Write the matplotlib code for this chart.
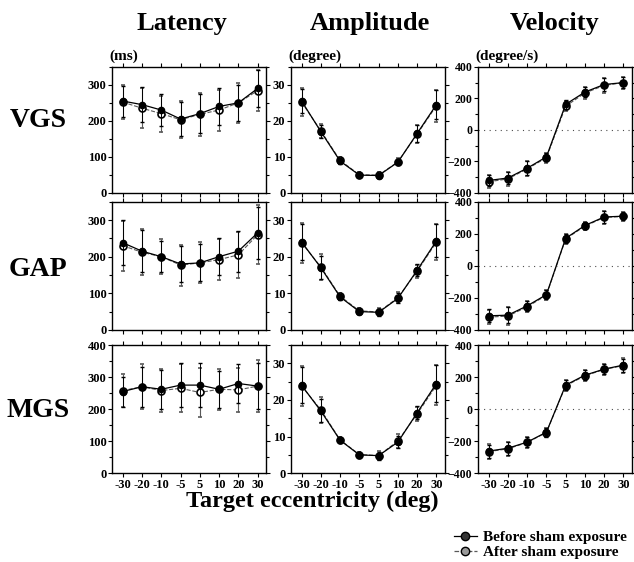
import numpy as np
import matplotlib.pyplot as plt
from matplotlib.ticker import MultipleLocator

plt.rcParams['font.family'] = ['Liberation Serif', 'DejaVu Serif']
plt.rcParams['font.weight'] = 'bold'

ecc_labels = ['-30', '-20', '-10', '-5', '5', '10', '20', '30']
x = np.arange(len(ecc_labels))

# latency (ms): before / after, with error bar half-widths
lat_vgs_before = [255, 245, 230, 205, 220, 240, 250, 290]
lat_vgs_after = [252, 235, 220, 203, 218, 230, 250, 284]
lat_vgs_err = [48, 55, 50, 52, 60, 57, 56, 58]
lat_gap_before = [238, 215, 200, 180, 183, 200, 215, 265]
lat_gap_after = [230, 212, 200, 177, 183, 192, 205, 260]
lat_gap_err = [68, 63, 48, 56, 56, 56, 62, 80]
lat_mgs_before = [255, 270, 262, 275, 275, 262, 280, 272]
lat_mgs_after = [258, 270, 258, 265, 252, 262, 260, 272]
lat_mgs_err = [52, 70, 68, 75, 75, 64, 68, 80]

# amplitude (degree)
amp_vgs_before = [25.5, 17.0, 8.8, 4.9, 4.8, 8.5, 16.5, 24.5]
amp_vgs_after = [25.2, 17.2, 9.0, 5.0, 4.9, 8.6, 16.3, 24.2]
amp_vgs_err = [3.8, 2.0, 1.0, 0.7, 0.8, 1.0, 2.5, 4.5]
amp_gap_before = [24.0, 17.0, 9.0, 5.0, 4.8, 8.6, 16.3, 24.3]
amp_gap_after = [23.8, 17.2, 9.2, 5.2, 4.9, 8.8, 16.0, 24.0]
amp_gap_err = [5.5, 3.5, 1.0, 0.8, 1.0, 1.5, 1.8, 5.0]
amp_mgs_before = [24.0, 17.0, 9.0, 5.0, 4.8, 8.5, 16.5, 24.5]
amp_mgs_after = [23.8, 17.3, 9.1, 5.1, 4.8, 8.8, 16.2, 24.0]
amp_mgs_err = [5.5, 3.5, 0.8, 0.8, 1.2, 1.8, 2.0, 5.5]

# velocity (degree/s)
vel_vgs_before = [-322, -306, -244, -172, 162, 240, 288, 300]
vel_vgs_after = [-330, -312, -248, -178, 150, 234, 282, 300]
vel_vgs_err = [40, 45, 48, 30, 32, 38, 45, 38]
vel_gap_before = [-312, -308, -250, -180, 172, 252, 305, 310]
vel_gap_after = [-320, -314, -256, -184, 168, 248, 302, 308]
vel_gap_err = [45, 55, 35, 30, 30, 25, 40, 30]
vel_mgs_before = [-262, -244, -206, -144, 150, 212, 250, 275]
vel_mgs_after = [-265, -248, -208, -146, 146, 208, 248, 272]
vel_mgs_err = [45, 45, 35, 30, 35, 35, 35, 45]

rows = ['VGS', 'GAP', 'MGS']
cols = ['Latency', 'Amplitude', 'Velocity']
units = ['(ms)', '(degree)', '(degree/s)']
data = [
    [(lat_vgs_before, lat_vgs_after, lat_vgs_err),
     (amp_vgs_before, amp_vgs_after, amp_vgs_err),
     (vel_vgs_before, vel_vgs_after, vel_vgs_err)],
    [(lat_gap_before, lat_gap_after, lat_gap_err),
     (amp_gap_before, amp_gap_after, amp_gap_err),
     (vel_gap_before, vel_gap_after, vel_gap_err)],
    [(lat_mgs_before, lat_mgs_after, lat_mgs_err),
     (amp_mgs_before, amp_mgs_after, amp_mgs_err),
     (vel_mgs_before, vel_mgs_after, vel_mgs_err)],
]

fig = plt.figure(figsize=(6.34, 5.62), dpi=100)

lefts = [0.177, 0.459, 0.754]
bottoms = [0.657, 0.413, 0.158]
heights = [0.224, 0.228, 0.228]
w = 0.243
title_x = [0.287, 0.584, 0.875]
row_y = [0.786, 0.52, 0.27]

for r in range(3):
    for c in range(3):
        ax = fig.add_axes([lefts[c], bottoms[r], w, heights[r]])
        before, after, err = data[r][c]
        ax.errorbar(x, after, yerr=err, color='0.35', lw=0.8, ls='--',
                    elinewidth=0.8, capsize=1.2, marker='o', ms=5,
                    mfc='white', mec='black', mew=1.2, zorder=2)
        ax.errorbar(x, before, yerr=np.array(err) * 0.9, color='black', lw=0.9,
                    elinewidth=0.7, capsize=1.2, marker='o', ms=4.5,
                    mfc='black', mec='black', zorder=3)
        ax.set_xlim(-0.55, 7.45)
        if c == 0:
            ax.set_ylim(0, 400 if r == 2 else 350)
            ax.yaxis.set_major_locator(MultipleLocator(100))
            ax.yaxis.set_minor_locator(MultipleLocator(50))
        elif c == 1:
            ax.set_ylim(0, 35)
            ax.yaxis.set_major_locator(MultipleLocator(10))
            ax.yaxis.set_minor_locator(MultipleLocator(5))
        else:
            ax.set_ylim(-400, 400)
            ax.yaxis.set_major_locator(MultipleLocator(200))
            ax.yaxis.set_minor_locator(MultipleLocator(100))
            ax.axhline(0, color='0.3', lw=0.8, ls=(0, (1, 4)), zorder=1)
        ax.set_xticks(x)
        if r == 2:
            ax.set_xticklabels(ecc_labels)
        else:
            ax.set_xticklabels([])
        ax.tick_params(which='both', direction='out', length=3, width=0.8,
                       labelsize=9, pad=1, top=True, right=True)
        ax.tick_params(which='minor', length=2)
        if c == 2:
            ax.tick_params(axis='y', labelsize=8.5)
        for lab in ax.get_xticklabels() + ax.get_yticklabels():
            lab.set_fontweight('bold')
        for s in ax.spines.values():
            s.set_linewidth(1.0)
        if r == 0:
            ax.text(-0.02, 1.03, units[c], transform=ax.transAxes,
                    fontsize=11, fontweight='bold', ha='left', va='bottom')
            fig.text(title_x[c], 0.958, cols[c], fontsize=19,
                     fontweight='bold', ha='center', va='center')
    fig.text(0.06, row_y[r], rows[r], fontsize=20,
             fontweight='bold', ha='center', va='center')

fig.text(0.493, 0.107, 'Target eccentricity (deg)', fontsize=17.5,
         fontweight='bold', ha='center', va='center')

# legend
h1, = fig.axes[0].plot([], [], color='black', lw=0.9, marker='o', ms=6,
                       mfc='0.2', mec='black')
h2, = fig.axes[0].plot([], [], color='0.35', lw=0.9, ls='--', marker='o', ms=6,
                       mfc='0.6', mec='black')
fig.legend([h1, h2], ['Before sham exposure', 'After sham exposure'],
           loc='lower right', bbox_to_anchor=(1.01, -0.02), frameon=False,
           prop={'weight': 'bold', 'size': 11}, handlelength=1.5,
           handletextpad=0.4, labelspacing=0.1)

fig.savefig('out.png', dpi=100)
